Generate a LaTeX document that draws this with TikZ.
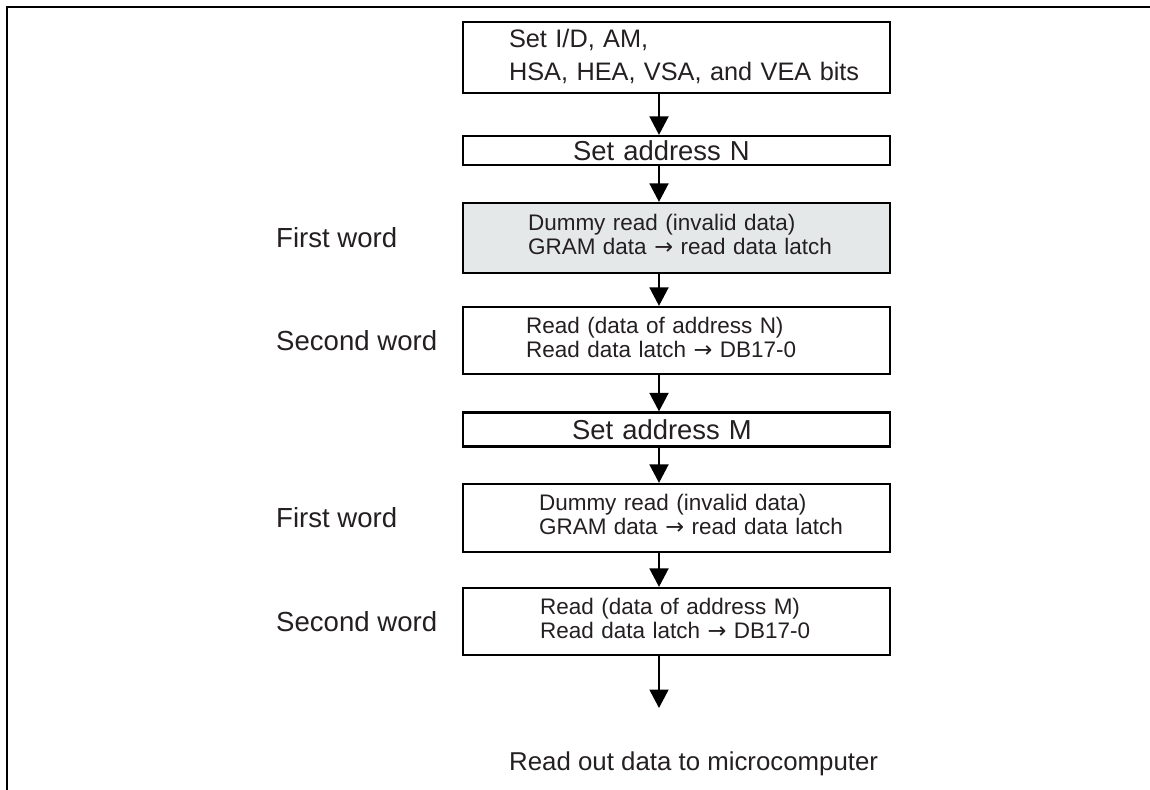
\documentclass[tikz,border=0pt]{standalone}
\usepackage{fontspec}
\setmainfont{Liberation Sans}
\newfontfamily\arrowfont{DejaVu Sans}
\usetikzlibrary{arrows.meta,positioning}

\begin{document}
\begin{tikzpicture}[x=0.02cm,y=-0.02cm,
  box/.style={draw=cline,line width=1.3pt,inner xsep=0pt,inner ysep=0pt,
    text width=8.54cm,align=left,text=ctext,minimum height=#1},
  big/.style={font=\fontsize{14.4}{19}\selectfont},
  addr/.style={font=\fontsize{15.6}{18}\selectfont},
  small/.style={font=\fontsize{12.8}{13.6}\selectfont},
  lbl/.style={anchor=west,text=ctext,font=\fontsize{15.7}{18}\selectfont},
  flow/.style={draw=cline,line width=1.1pt,-{Triangle[length=0.37cm,width=0.38cm]}}]
%
\useasboundingbox (0,0) rectangle (1150,790);
%
\definecolor{cline}{rgb}{0.0,0.0,0.0}
\definecolor{ctext}{rgb}{0.14,0.12,0.13}
\definecolor{cgray}{rgb}{0.90,0.91,0.91}
%
\draw[line width=1.7pt] (1150,7) -- (7,7) -- (7,790);
%
\coordinate (ax) at (659,0);
%
\node[box=1.42cm,big] (setbits) at (676.5,57.5)
  {\hspace*{0.92cm}\begin{tabular}{@{}l@{}}Set I/D, AM,\\HSA, HEA, VSA, and VEA bits\end{tabular}};
\node[box=0.58cm,addr] (addrN) at (676.5,150.5) {\hspace*{2.2cm}Set address N};
\node[box=1.4cm,small,fill=cgray] (dummyN) at (676.5,238)
  {\hspace*{1.3cm}\begin{tabular}{@{}l@{}}Dummy read (invalid data)\\GRAM data {\arrowfont →} read data latch\end{tabular}};
\node[box=1.34cm,small] (readN) at (676.5,340.5)
  {\hspace*{1.26cm}\begin{tabular}{@{}l@{}}Read (data of address N)\\Read data latch {\arrowfont →} DB17-0\end{tabular}};
\node[box=0.68cm,addr] (addrM) at (676.5,429.5) {\hspace*{2.18cm}Set address M};
\node[box=1.36cm,small] (dummyM) at (676.5,518)
  {\hspace*{1.52cm}\begin{tabular}{@{}l@{}}Dummy read (invalid data)\\GRAM data {\arrowfont →} read data latch\end{tabular}};
\node[box=1.34cm,small] (readM) at (676.5,621.5)
  {\hspace*{1.54cm}\begin{tabular}{@{}l@{}}Read (data of address M)\\Read data latch {\arrowfont →} DB17-0\end{tabular}};
%
\node[lbl] (firstN) at (270,238) {First word};
\node[lbl] (secondN) at (270,340.5) {Second word};
\node[lbl] (firstM) at (270,518) {First word};
\node[lbl] (secondM) at (270,621.5) {Second word};
%
\coordinate (outend) at (659,708);
\node[lbl,font=\fontsize{14.7}{17}\selectfont] (out) at (503,764) {Read out data to microcomputer};
%
\draw[flow] (setbits.south -| ax) -- (addrN.north -| ax);
\draw[flow] (addrN.south -| ax) -- (dummyN.north -| ax);
\draw[flow] (dummyN.south -| ax) -- (readN.north -| ax);
\draw[flow] (readN.south -| ax) -- (addrM.north -| ax);
\draw[flow] (addrM.south -| ax) -- (dummyM.north -| ax);
\draw[flow] (dummyM.south -| ax) -- (readM.north -| ax);
\draw[flow] (readM.south -| ax) -- (outend);
%
\end{tikzpicture}
\end{document}
